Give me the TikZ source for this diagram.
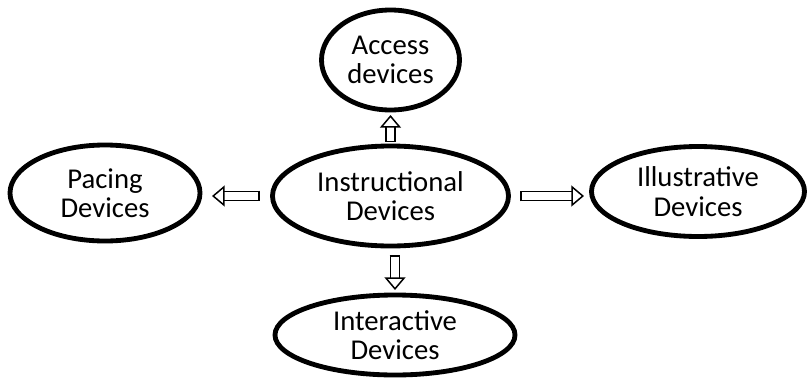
\documentclass[tikz,border=0pt]{standalone}
\usepackage{fontspec}
\setmainfont{Carlito}
\usetikzlibrary{positioning,arrows.meta,calc,shapes.geometric}

\begin{document}
\begin{tikzpicture}[
  x=0.03cm, y=0.03cm,
  every node/.style={font=\fontsize{24.5}{25.2}\selectfont,align=center},
  device/.style={draw,ellipse,line width=1.45mm,inner sep=0pt,outer sep=0pt},
  link/.style={draw,double,line width=0.45mm,double distance=2.3mm,
    {Bar[width=3.2mm,line width=0.45mm]}-{Triangle[open,length=3.8mm,width=6.3mm,line width=0.45mm]}}
]
  \useasboundingbox (0,0) rectangle (812,378);

  % ellipses
  \node[device,minimum width=70.8mm,minimum height=30mm] (inst) at (390.5,182)
    {Instructional\\Devices};
  \node[device,minimum width=41.4mm,minimum height=30mm] (acc) at (390.5,318)
    {Access\\devices};
  \node[device,minimum width=57mm,minimum height=28.8mm] (pac) at (105,185)
    {Pacing\\Devices};
  \node[device,minimum width=63.9mm,minimum height=27mm] (ill) at (698,186.5)
    {Illustrative\\Devices};
  \node[device,minimum width=72mm,minimum height=24mm] (inter) at (395,43)
    {Interactive\\Devices};

  % block arrows
  \draw[link,shorten <=1.2mm,shorten >=1.5mm] (inst.north) -- (acc.south);
  \draw[link,shorten <=2.7mm,shorten >=1.5mm] (inter.north |- inst.south) -- (inter.north);
  \draw[link,shorten <=3.75mm,shorten >=3.6mm] (inst.west) -- (inst.west -| pac.east);
  \draw[link,shorten <=3.45mm,shorten >=2.25mm] (inst.east) -- (inst.east -| ill.west);
\end{tikzpicture}
\end{document}
